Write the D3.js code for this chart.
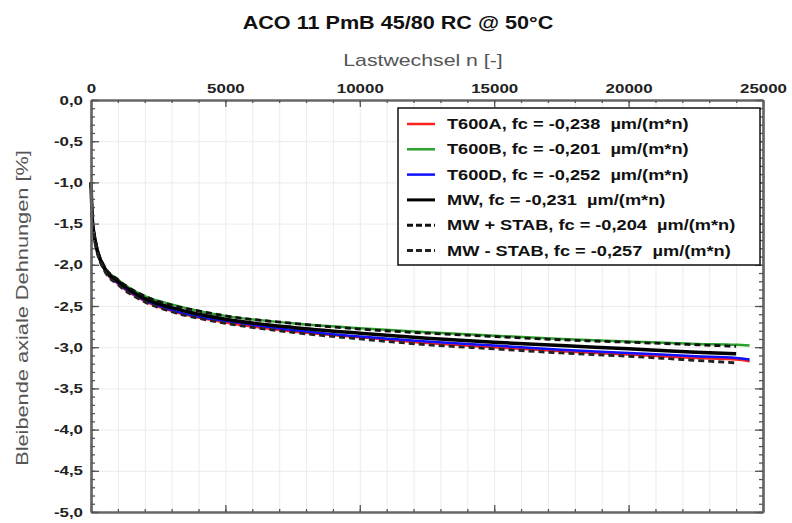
<!DOCTYPE html>
<html lang="en">
<head>
<meta charset="utf-8">
<title>ACO 11 PmB 45/80 RC</title>
<style>
    body { margin: 0; background: #fff; }
    svg { font-family: "Liberation Sans", Arial, sans-serif; }
    .grid line { stroke: #ececec; stroke-width: 1; }
    .grid path { display: none; }
    .ax path { stroke: #666; stroke-width: 2.2; }
    .ax line { stroke: #555; stroke-width: 1.3; }
    .ax text { font-size: 13px; font-weight: bold; fill: #222; }
</style>
</head>
<body>
<svg id="chart" width="792" height="523"></svg>
<script src="https://d3js.org/d3.v7.min.js"></script>
<script>
// load cycles n and permanent axial strain [%]
const cycles = [0, 50, 100, 200, 500, 1000, 2000, 3000, 4000, 5000, 7500, 10000, 12500, 15000, 17500, 20000, 22500, 24000, 24500];
const t600a  = [-1.00, -1.46, -1.62, -1.80, -2.06, -2.23, -2.44, -2.56, -2.64, -2.70, -2.81, -2.88, -2.95, -3.00, -3.05, -3.09, -3.13, -3.15, -3.17];
const t600b  = [-1.00, -1.44, -1.58, -1.76, -2.02, -2.18, -2.38, -2.48, -2.56, -2.62, -2.71, -2.77, -2.82, -2.86, -2.90, -2.93, -2.96, -2.97, -2.98];
const t600d  = [-1.00, -1.45, -1.61, -1.79, -2.05, -2.22, -2.43, -2.55, -2.63, -2.68, -2.79, -2.87, -2.93, -2.98, -3.03, -3.07, -3.11, -3.13, -3.15];
const mw     = [-1.00, -1.45, -1.60, -1.78, -2.04, -2.20, -2.41, -2.52, -2.60, -2.66, -2.76, -2.83, -2.89, -2.94, -2.98, -3.02, -3.06, -3.08, null];
const mwPlus = [-1.00, -1.44, -1.58, -1.76, -2.02, -2.18, -2.38, -2.49, -2.56, -2.62, -2.71, -2.78, -2.83, -2.87, -2.91, -2.94, -2.97, -2.99, null];
const mwMinus= [-1.00, -1.46, -1.63, -1.81, -2.07, -2.24, -2.45, -2.57, -2.65, -2.71, -2.82, -2.90, -2.97, -3.02, -3.07, -3.11, -3.16, -3.19, null];

const seriesNames = ["T600A, fc = -0,238  \u00b5m/(m*n)", "T600B, fc = -0,201  \u00b5m/(m*n)", "T600D, fc = -0,252  \u00b5m/(m*n)",
                     "MW, fc = -0,231  \u00b5m/(m*n)", "MW + STAB, fc = -0,204  \u00b5m/(m*n)", "MW - STAB, fc = -0,257  \u00b5m/(m*n)"];
const seriesValues = [t600a, t600b, t600d, mw, mwPlus, mwMinus];
const seriesColors = ["#ff2020", "#2ca02c", "#1010ff", "#000", "#111", "#222"];
const seriesWidth = [2.5, 2.5, 2.5, 3.5, 2.8, 2.8];
const seriesDash = [null, null, null, null, "6,4", "6,4"];

const xTicks = [0, 5000, 10000, 15000, 20000, 25000];
const yTicks = [0, -0.5, -1, -1.5, -2, -2.5, -3, -3.5, -4, -4.5, -5];

const margin = {left: 91, top: 100, right: 29, bottom: 11};
const W = 792, H = 523;
const svg = d3.select("#chart");

const x = d3.scaleLinear().domain([0, 25000]).range([margin.left, W - margin.right]);
const y = d3.scaleLinear().domain([0, -5]).range([margin.top, H - margin.bottom]);
const fmt = v => v.toFixed(1).replace(".", ",");

// stretch text along its baseline (the original looks widened)
function widen(sel, k) {
    sel.each(function() {
        const len = this.getComputedTextLength();
        d3.select(this).attr("textLength", len * k).attr("lengthAdjust", "spacingAndGlyphs");
    });
}

// grid
svg.append("g").attr("class", "grid")
    .attr("transform", "translate(0," + (H - margin.bottom) + ")")
    .call(d3.axisBottom(x).ticks(25).tickSize(-(y.range()[1] - y.range()[0])).tickFormat(""));
svg.append("g").attr("class", "grid")
    .attr("transform", "translate(" + margin.left + ",0)")
    .call(d3.axisLeft(y).tickValues(yTicks).tickSize(-(x.range()[1] - x.range()[0])).tickFormat(""));

// curves
const line = d3.line()
    .defined(d => d[1] !== null)
    .x(d => x(d[0]))
    .y(d => y(d[1]))
    .curve(d3.curveMonotoneX);

const order = [0, 1, 2, 3, 4, 5];
order.forEach(i => {
    svg.append("path")
        .datum(cycles.map((n, j) => [n, seriesValues[i][j]]))
        .attr("d", line)
        .attr("fill", "none")
        .attr("stroke", seriesColors[i])
        .attr("stroke-width", seriesWidth[i])
        .attr("stroke-dasharray", seriesDash[i]);
});

// axes: ticks inward on all four sides
const minorX = d3.range(0, 25001, 1000);
const minorY = d3.range(0, 51).map(v => -v / 10);

const topAxis = svg.append("g").attr("class", "ax").attr("transform", "translate(0," + margin.top + ")")
    .call(d3.axisTop(x).tickValues(xTicks).tickSizeInner(-7).tickSizeOuter(0).tickPadding(7).tickFormat(d3.format("d")));
svg.append("g").attr("class", "ax").attr("transform", "translate(0," + margin.top + ")")
    .call(d3.axisTop(x).tickValues(minorX).tickSizeInner(-3).tickSizeOuter(0).tickFormat(""));
svg.append("g").attr("class", "ax").attr("transform", "translate(0," + (H - margin.bottom) + ")")
    .call(d3.axisBottom(x).tickValues(xTicks).tickSizeInner(-7).tickSizeOuter(0).tickFormat(""));
svg.append("g").attr("class", "ax").attr("transform", "translate(0," + (H - margin.bottom) + ")")
    .call(d3.axisBottom(x).tickValues(minorX).tickSizeInner(-3).tickSizeOuter(0).tickFormat(""));

const leftAxis = svg.append("g").attr("class", "ax").attr("transform", "translate(" + margin.left + ",0)")
    .call(d3.axisLeft(y).tickValues(yTicks).tickSizeInner(-8).tickSizeOuter(0).tickPadding(8).tickFormat(fmt));
svg.append("g").attr("class", "ax").attr("transform", "translate(" + margin.left + ",0)")
    .call(d3.axisLeft(y).tickValues(minorY).tickSizeInner(-4).tickSizeOuter(0).tickFormat(""));
svg.append("g").attr("class", "ax").attr("transform", "translate(" + (W - margin.right) + ",0)")
    .call(d3.axisRight(y).tickValues(yTicks).tickSizeInner(-8).tickSizeOuter(0).tickFormat(""));
svg.append("g").attr("class", "ax").attr("transform", "translate(" + (W - margin.right) + ",0)")
    .call(d3.axisRight(y).tickValues(minorY).tickSizeInner(-4).tickSizeOuter(0).tickFormat(""));

topAxis.selectAll("text").call(widen, 1.3);
leftAxis.selectAll("text").call(widen, 1.3);

// titles
svg.append("text")
    .attr("x", 398).attr("y", 29)
    .attr("text-anchor", "middle")
    .style("font-size", "18px").style("font-weight", "bold").style("fill", "#111")
    .text("ACO 11 PmB 45/80 RC @ 50\u00b0C")
    .call(widen, 1.2);
svg.append("text")
    .attr("x", 423).attr("y", 66)
    .attr("text-anchor", "middle")
    .style("font-size", "17px").style("fill", "#555")
    .text("Lastwechsel n [-]")
    .call(widen, 1.25);
svg.append("text")
    .attr("transform", "translate(28," + 308 + ") rotate(-90)")
    .attr("text-anchor", "middle")
    .style("font-size", "17px").style("fill", "#555")
    .text("Bleibende axiale Dehnungen [%]")
    .call(widen, 1.28);

// legend
const lg = svg.append("g").attr("transform", "translate(398,108)");
lg.append("rect").attr("width", 362).attr("height", 157)
    .attr("fill", "#fff").attr("stroke", "#111").attr("stroke-width", 1.5);
seriesNames.forEach((name, i) => {
    const yy = 16 + i * 25.3;
    lg.append("line")
        .attr("x1", 9).attr("x2", 37).attr("y1", yy).attr("y2", yy)
        .attr("stroke", seriesColors[i])
        .attr("stroke-width", i < 3 ? 2.5 : 3)
        .attr("stroke-dasharray", seriesDash[i] ? "6,3" : null);
    lg.append("text")
        .attr("x", 49).attr("y", yy + 5)
        .style("font-size", "14px").style("font-weight", "bold").style("fill", "#111")
        .style("white-space", "pre")
        .text(name)
        .call(widen, 1.3);
});
</script>
</body>
</html>
